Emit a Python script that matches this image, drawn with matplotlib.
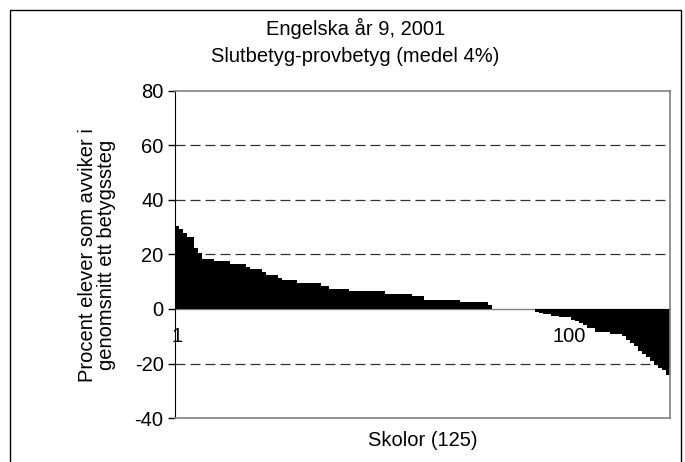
import matplotlib
matplotlib.use("Agg")
import matplotlib.pyplot as plt
from matplotlib.patches import Rectangle

plt.rcParams['font.family'] = ['Liberation Sans', 'DejaVu Sans']
plt.rcParams['axes.unicode_minus'] = False

# Skolor sorterade efter avvikelse (procent), 125 st
avvikelse = (
    [30.5, 29.5, 28, 26.5, 26.5, 22.5, 20.5, 18.5, 18.5, 18.5]
    + [17.5] * 4 + [16.5] * 4 + [15.5] + [14.5] * 3 + [13.5]
    + [12.5] * 3 + [11.5] + [10.5] * 4 + [9.5] * 6 + [8.5] * 2
    + [7.4] * 5 + [6.6] * 9 + [5.6] * 7 + [4.6] * 3 + [3.4] * 9
    + [2.6] * 7 + [1.3] + [0] * 11
    + [-1, -1.5, -2, -2, -2.5, -2.5, -3, -3, -3, -4, -4.5, -5, -6, -7, -7]
    + [-8.5] * 4 + [-9] * 3
    + [-10, -11.5, -12.3, -13.7, -15.3, -16.5, -17.7, -19.2, -20.4, -21.7, -22.5, -24.4]
)
skolor = list(range(1, len(avvikelse) + 1))
x_ticks = [1, 100]
y_ticks = [-40, -20, 0, 20, 40, 60, 80]

fs = 14.5

fig = plt.figure(figsize=(6.85, 4.62), dpi=100)
ax = fig.add_axes([0.255, 0.0952, 0.723, 0.708])

# ram runt hela diagrammet
fig.patches.append(Rectangle((10 / 685, -0.1), 671 / 685, 1.1 - 10 / 462,
                             transform=fig.transFigure, fill=False,
                             edgecolor='black', linewidth=1))

ax.bar(skolor, avvikelse, width=1.0, color='black', edgecolor='none', zorder=2)

for y in [-20, 20, 40, 60]:
    ax.axhline(y, color='#333333', linewidth=0.9, linestyle=(0, (8, 4)), zorder=1)

ax.set_xlim(0.5, len(avvikelse) + 0.5)
ax.set_ylim(-40, 80)
ax.set_yticks(y_ticks)
ax.tick_params(axis='y', direction='out', length=5, width=1, labelsize=fs, pad=3)
ax.set_xticks([])

for s in ['top', 'right', 'bottom']:
    ax.spines[s].set_color('#808080')
    ax.spines[s].set_linewidth(1.2)
ax.spines['left'].set_color('black')

# x-axeln vid noll
sec = ax.secondary_xaxis(1 / 3)
sec.set_xticks(x_ticks)
sec.set_xticklabels([str(t) for t in x_ticks])
sec.tick_params(length=0, labelsize=fs, pad=13)
sec.spines['bottom'].set_color('#808080')
sec.spines['bottom'].set_linewidth(1)

fig.text(0.519, 1 - 28 / 462, "Engelska år 9, 2001", ha='center', va='center', fontsize=fs)
fig.text(0.519, 1 - 56 / 462, "Slutbetyg-provbetyg (medel 4%)", ha='center', va='center', fontsize=fs)
fig.text(423 / 685, 1 - 441 / 462, "Skolor (125)", ha='center', va='center', fontsize=fs)
fig.text(97 / 685, 1 - 255 / 462, "Procent elever som avviker i\ngenomsnitt ett betygssteg",
         ha='center', va='center', rotation=90, fontsize=fs, linespacing=1.0)

fig.savefig("out.png", dpi=100)
